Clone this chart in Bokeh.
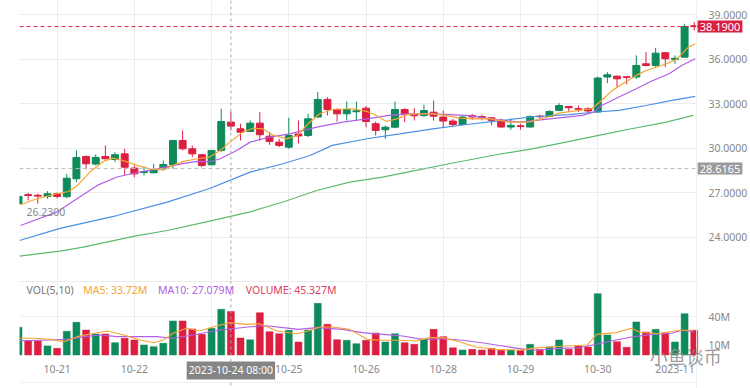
from bokeh.plotting import figure
from bokeh.layouts import column
from bokeh.models import ColumnDataSource, FixedTicker, Span, Label, Range1d, BoxAnnotation
from bokeh.embed import file_html
from bokeh.resources import INLINE

# ---------------- data ----------------
opens = [26.25, 26.86, 26.82, 26.74, 26.92, 26.72, 27.93, 29.43, 28.92, 29.43,
         29.23, 29.61, 28.65, 28.35, 28.33, 28.60, 28.89, 30.51, 29.95, 29.55,
         28.87, 29.84, 31.75, 31.30, 31.12, 31.68, 30.80, 30.40, 30.06, 30.95,
         30.85, 32.09, 33.28, 32.60, 32.31, 32.45, 32.69, 31.64, 31.23, 31.41,
         32.60, 32.25, 32.20, 32.42, 32.09, 31.82, 31.59, 32.18, 32.12, 32.04,
         31.87, 31.42, 31.50, 31.42, 32.15, 32.13, 32.54, 32.80, 32.66, 32.65,
         32.43, 34.79, 34.85, 34.81, 34.79, 35.68, 35.57, 36.43, 35.98, 36.13,
         38.25]
highs = [26.80, 26.98, 26.92, 27.10, 27.00, 28.26, 29.84, 29.50, 29.57, 30.17,
         29.73, 29.95, 28.83, 28.76, 28.94, 29.16, 30.56, 31.19, 30.17, 29.61,
         29.88, 32.65, 32.47, 31.64, 31.86, 32.42, 31.07, 30.62, 32.04, 31.86,
         32.31, 33.77, 33.43, 32.69, 33.14, 33.14, 32.83, 31.79, 31.52, 33.14,
         32.69, 32.69, 32.92, 33.21, 32.53, 31.97, 32.20, 32.31, 32.24, 32.09,
         31.98, 31.98, 31.64, 32.20, 32.25, 32.54, 33.03, 32.83, 32.87, 32.76,
         34.83, 35.12, 34.87, 34.83, 36.25, 36.47, 36.76, 36.47, 36.25, 38.38,
         38.49]
lows = [26.23, 26.47, 26.25, 26.58, 26.60, 26.62, 27.70, 28.56, 28.83, 29.23,
        29.05, 28.15, 28.04, 28.15, 28.31, 28.49, 28.60, 29.84, 29.39, 28.71,
        28.83, 29.73, 31.19, 30.51, 31.07, 30.51, 30.22, 30.06, 29.95, 30.30,
        30.74, 32.04, 32.20, 31.79, 31.86, 31.86, 31.41, 30.85, 30.62, 31.34,
        31.75, 31.86, 32.09, 31.86, 31.41, 31.41, 31.57, 31.90, 31.86, 31.53,
        31.37, 31.24, 31.24, 31.37, 31.98, 32.09, 32.49, 32.43, 32.43, 32.31,
        32.38, 34.38, 34.11, 34.30, 34.67, 35.50, 35.46, 35.46, 35.68, 36.09,
        37.93]
closes = [26.74, 26.80, 26.76, 26.92, 26.74, 27.97, 29.37, 28.94, 29.37, 29.28,
          29.55, 28.71, 28.26, 28.42, 28.53, 28.89, 30.51, 29.95, 29.61, 28.83,
          29.84, 31.79, 31.48, 31.07, 31.68, 30.90, 30.45, 30.18, 30.85, 30.82,
          31.97, 33.28, 32.60, 32.31, 32.60, 32.52, 31.79, 31.19, 31.41, 32.60,
          32.31, 32.18, 32.53, 32.15, 31.82, 31.59, 32.09, 32.10, 32.05, 31.87,
          31.42, 31.53, 31.45, 32.13, 32.11, 32.47, 32.87, 32.72, 32.62, 32.50,
          34.72, 34.94, 34.67, 34.77, 35.57, 35.57, 36.40, 36.02, 36.05, 38.20,
          38.19]
volumes = [28.8, 14.6, 14.6, 9.4, 6.9, 24.7, 34.0, 26.0, 21.9, 21.9,
           12.8, 17.4, 15.6, 10.4, 8.7, 12.2, 35.4, 35.4, 27.1, 21.5,
           27.8, 47.6, 45.327, 17.7, 15.8, 44.0, 24.3, 22.2, 25.7, 13.5,
           26.0, 53.8, 32.0, 16.0, 15.3, 11.8, 15.3, 22.9, 13.5, 22.2,
           12.8, 11.1, 16.7, 26.7, 19.1, 7.6, 5.2, 5.9, 5.2, 6.9,
           4.9, 5.2, 4.9, 11.1, 5.6, 8.3, 15.6, 5.9, 9.4, 8.3,
           63.9, 20.8, 13.9, 8.0, 34.4, 24.0, 26.7, 23.3, 13.5, 43.0,
           25.7]

# price moving averages (candle index, value)
ma5_x = [0.2, 1.9, 4.0, 5.2, 6.1, 7.4, 8.8, 9.8, 11.1, 12.3, 13.6, 15.0, 16.0, 17.1,
         18.5, 19.8, 20.9, 21.9, 23.2, 24.3, 25.3, 26.3, 27.8, 28.9, 30.0, 31.2,
         32.5, 34.6, 36.1, 37.1, 38.1, 39.2, 40.2, 41.2, 42.9, 44.3, 45.7, 47.0,
         48.8, 50.8, 52.9, 55.0, 56.0, 58.1, 59.4, 60.4, 61.5, 62.9, 64.0, 65.0,
         66.6, 68.1, 69.4, 70.1]
ma5_y = [26.18, 26.58, 26.92, 27.07, 27.48, 28.38, 29.10, 29.32, 29.10, 28.83,
         28.60, 28.53, 28.83, 29.10, 29.28, 29.39, 29.84, 30.40, 31.07, 31.34,
         31.30, 30.89, 30.62, 30.85, 31.64, 32.31, 32.60, 32.65, 32.47, 32.20,
         31.79, 31.97, 32.24, 32.31, 32.31, 32.20, 32.02, 31.97, 31.98, 31.75,
         31.75, 32.13, 32.36, 32.54, 32.65, 33.21, 33.89, 34.45, 34.90, 35.23,
         35.57, 35.95, 36.81, 37.03]
ma10_x = [0.2, 4.0, 6.1, 8.2, 10.2, 12.3, 14.4, 17.0, 18.5, 19.8, 20.9, 22.6, 24.0,
          26.0, 28.1, 30.9, 33.6, 36.1, 38.4, 40.5, 42.9, 46.4, 48.8, 51.9, 55.3,
          58.4, 59.6, 60.4, 62.2, 64.0, 65.6, 67.4, 68.7, 70.1]
ma10_y = [24.78, 25.70, 26.60, 27.50, 28.05, 28.35, 28.60, 28.95, 29.10, 29.08,
          29.28, 29.84, 30.40, 30.74, 30.96, 31.41, 31.75, 31.97, 32.20, 32.31,
          32.31, 32.20, 31.98, 31.75, 31.98, 32.20, 32.43, 32.87, 33.44, 34.00,
          34.52, 35.01, 35.57, 36.02]
ma30_x = [0.1, 4.3, 10.2, 15.4, 19.8, 24.0, 27.4, 30.2, 32.5, 36.1, 39.5, 42.9,
          46.4, 49.5, 53.6, 57.0, 59.8, 62.2, 65.0, 67.7, 70.1]
ma30_y = [23.77, 24.58, 25.45, 26.35, 27.27, 28.38, 28.94, 29.50, 30.18, 30.63,
          30.96, 31.30, 31.59, 31.82, 32.13, 32.25, 32.43, 32.54, 32.87, 33.21,
          33.48]
ma60_x = [0.1, 4.3, 6.7, 11.9, 15.4, 19.8, 24.0, 27.4, 30.9, 34.3, 37.7, 41.2,
          44.6, 49.5, 53.2, 56.7, 60.1, 63.5, 67.1, 69.9]
ma60_y = [22.71, 23.05, 23.32, 24.04, 24.44, 25.07, 25.70, 26.36, 27.14, 27.70,
          28.04, 28.49, 28.94, 29.55, 29.95, 30.40, 30.85, 31.30, 31.75, 32.20]

# volume moving averages (candle index, value in M)
vma5_x = [0.1, 1.6, 3.3, 4.7, 6.1, 7.8, 9.2, 10.9, 12.6, 14.0, 15.0, 16.0, 17.4,
          18.8, 20.2, 21.9, 23.6, 25.0, 26.8, 28.8, 30.0, 31.2, 32.5, 34.3, 36.1,
          37.7, 39.5, 41.2, 42.6, 43.9, 45.4, 47.4, 49.5, 51.9, 53.2, 55.0, 56.7,
          58.9, 59.9, 61.9, 63.5, 64.3, 66.3, 68.4, 69.9]
vma5_y = [17.4, 17.4, 16.3, 13.9, 19.1, 22.6, 25.0, 20.8, 15.6, 12.8, 15.6, 22.6,
          27.8, 25.0, 29.5, 33.72, 31.9, 32.6, 25.0, 22.2, 25.0, 29.2, 29.2, 26.7,
          16.3, 15.3, 15.3, 14.6, 18.1, 18.1, 14.6, 8.3, 5.9, 4.9, 6.9, 8.3, 9.4,
          10.4, 21.5, 23.3, 27.8, 24.0, 22.2, 25.7, 25.7]
vma10_x = [0.1, 3.3, 5.0, 6.8, 8.5, 10.2, 11.9, 14.3, 16.0, 18.1, 20.2, 21.9, 24.0,
           25.7, 27.4, 29.0, 30.9, 33.6, 35.6, 37.7, 39.8, 41.8, 43.9, 46.0, 48.0,
           49.8, 51.9, 53.6, 56.0, 58.1, 60.1, 61.9, 63.5, 65.6, 67.7, 68.7, 69.9]
vma10_y = [14.9, 15.6, 16.3, 19.1, 20.8, 19.1, 19.1, 19.1, 17.4, 20.8, 25.0, 27.079,
           29.5, 30.5, 28.5, 26.7, 28.5, 26.7, 23.3, 21.5, 19.8, 16.3, 17.0, 15.3,
           12.8, 9.9, 6.6, 4.9, 6.9, 7.6, 11.8, 15.6, 18.8, 21.5, 22.6, 25.7, 24.3]

price_ticks = [24, 27, 30, 33, 36, 39]
price_tick_labels = ["24.0000", "27.0000", "30.0000", "33.0000", "36.0000", "39.0000"]
vol_ticks = [10, 40]
vol_tick_labels = ["10M", "40M"]
date_ticks = [4, 12, 28, 36, 44, 52, 60, 68]
date_labels = ["10-21", "10-22", "10-25", "10-26", "10-28", "10-29", "10-30", "2023-11"]
grid_ticks = [4, 12, 20, 28, 36, 44, 52, 60]

cursor_index = 22
cursor_time = "2023-10-24 08:00"
cursor_price = 28.6165
cursor_vma5 = 33.72
cursor_vma10 = 27.079

# ---------------- styling / layout ----------------
GREEN = "#0f8a5b"
RED = "#dc1f40"
ORANGE = "#f5a535"
PURPLE = "#b25ee6"
BLUE = "#4b90e6"
LGREEN = "#5cba6c"
GRID = "#ececec"
TXT = "#888888"
FONT = "Noto Sans"
FS = "10.5px"

X0, X1, XEND = 0.103, 70.25, 75.62     # left edge, panel right edge, canvas right edge
PY0, PY1 = 21.07, 39.95                 # price frame range (0..280 px)
VY0, VY1 = -34.9, 77.6                  # volume frame range (280..388 px)
VOL_BASE_EDGE = -2.6                    # bottom of the bar area
VOL_BOTTOM_LINE = -28.6

n = len(opens)
idx = list(range(n))
colors = [GREEN if c >= o else RED for o, c in zip(opens, closes)]
src = ColumnDataSource(dict(
    x=idx, open=opens, close=closes, high=highs, low=lows,
    top=[max(o, c) for o, c in zip(opens, closes)],
    bottom=[min(o, c) for o, c in zip(opens, closes)],
    color=colors, vol=volumes))

xr = Range1d(X0, XEND)


def style_axis(ax, standoff):
    ax.axis_line_color = None
    ax.major_tick_line_color = None
    ax.minor_tick_line_color = None
    ax.major_label_standoff = standoff
    ax.major_label_text_color = TXT
    ax.major_label_text_font = FONT
    ax.major_label_text_font_size = FS


# ---------------- price panel ----------------
p = figure(width=750, height=280, x_range=xr, y_range=Range1d(PY0, PY1),
           output_backend="svg", toolbar_location=None,
           x_axis_location=None, y_axis_location="right",
           min_border_left=19, min_border_right=0, min_border_top=0, min_border_bottom=0)
p.outline_line_color = None
p.yaxis.ticker = FixedTicker(ticks=price_ticks)
p.yaxis.major_label_overrides = {t: l for t, l in zip(price_ticks, price_tick_labels)}
style_axis(p.yaxis[0], -46)
p.ygrid.ticker = FixedTicker(ticks=price_ticks)
p.ygrid.grid_line_color = GRID
p.xgrid.ticker = FixedTicker(ticks=grid_ticks)
p.xgrid.grid_line_color = GRID
p.add_layout(BoxAnnotation(left=X1, fill_color="white", fill_alpha=1.0,
                           line_alpha=0, level="underlay"))

p.segment(x0="x", y0="low", x1="x", y1="high", color="color", line_width=1, source=src)
p.vbar(x="x", width=0.72, top="top", bottom="bottom", fill_color="color",
       line_color="color", line_width=1, source=src)

p.line(ma60_x, ma60_y, line_color=LGREEN, line_width=1.2)
p.line(ma30_x, ma30_y, line_color=BLUE, line_width=1.2)
p.line(ma10_x, ma10_y, line_color=PURPLE, line_width=1.2)
p.line(ma5_x, ma5_y, line_color=ORANGE, line_width=1.2)

last_price = closes[-1]
p.line([X0, X1], [last_price, last_price], line_color=RED, line_dash="4 3", line_width=1)
p.line([X0, X1], [cursor_price, cursor_price], line_color="#bbbbbb", line_dash="4 3",
       line_width=1)
p.add_layout(Span(location=cursor_index, dimension="height", line_color="#aaaaaa",
                  line_dash="3 3", line_width=1))
p.add_layout(Span(location=X1, dimension="height", line_color=GRID, line_width=1))

p.add_layout(Label(x=X1, y=last_price, x_offset=1, text=f"{last_price:.4f}",
                   text_color="white", text_font=FONT, text_font_size="11px",
                   text_align="left", text_baseline="middle",
                   background_fill_color=RED, padding=2))
p.add_layout(Label(x=X1, y=cursor_price, x_offset=1, text=f"{cursor_price:.4f}",
                   text_color="white", text_font=FONT, text_font_size="11px",
                   text_align="left", text_baseline="middle",
                   background_fill_color="#9a9a9a", padding=2))
i_min = lows.index(min(lows))
p.add_layout(Label(x=i_min, y=min(lows), x_offset=8, y_offset=-8,
                   text=f"{min(lows):.4f}", text_color=TXT, text_font=FONT,
                   text_font_size=FS, text_align="left", text_baseline="middle"))

# ---------------- volume panel ----------------
v = figure(width=750, height=108, x_range=xr, y_range=Range1d(VY0, VY1),
           output_backend="svg", toolbar_location=None,
           x_axis_location="below", y_axis_location="right",
           min_border_left=19, min_border_right=0, min_border_top=0, min_border_bottom=0)
v.outline_line_color = None
v.yaxis.ticker = FixedTicker(ticks=vol_ticks)
v.yaxis.major_label_overrides = {t: l for t, l in zip(vol_ticks, vol_tick_labels)}
style_axis(v.yaxis[0], -46)
v.xaxis.ticker = FixedTicker(ticks=date_ticks)
v.xaxis.major_label_overrides = {t: l for t, l in zip(date_ticks, date_labels)}
style_axis(v.xaxis[0], -30)
v.ygrid.ticker = FixedTicker(ticks=vol_ticks)
v.ygrid.grid_line_color = "#f2f2f2"
v.xgrid.ticker = FixedTicker(ticks=grid_ticks)
v.xgrid.grid_line_color = GRID
v.add_layout(BoxAnnotation(left=X1, fill_color="white", fill_alpha=1.0,
                           line_alpha=0, level="underlay"))
v.add_layout(BoxAnnotation(top=VOL_BASE_EDGE, fill_color="white", fill_alpha=1.0,
                           line_alpha=0, level="underlay"))

v.line([X0, X1], [VY1 - 1.0, VY1 - 1.0], line_color=GRID, line_width=1)
v.line([X0, X1], [VOL_BOTTOM_LINE, VOL_BOTTOM_LINE], line_color="#f0f0f0", line_width=1)

v.vbar(x="x", width=0.72, top="vol", bottom=0, fill_color="color",
       line_color="color", line_width=0.5, source=src)
v.line(vma10_x, vma10_y, line_color=PURPLE, line_width=1.1)
v.line(vma5_x, vma5_y, line_color=ORANGE, line_width=1.1)

v.add_layout(Span(location=cursor_index, dimension="height", line_color="#aaaaaa",
                  line_dash="3 3", line_width=1))
v.add_layout(Span(location=X1, dimension="height", line_color=GRID, line_width=1))

legend_items = [
    ("VOL(5,10)", "#777777", 0.83),
    (f"MA5: {cursor_vma5}M", ORANGE, 6.7),
    (f"MA10: {cursor_vma10}M", PURPLE, 14.45),
    (f"VOLUME: {volumes[cursor_index]}M", "#e0405c", 23.55),
]
for txt, col, xx in legend_items:
    v.add_layout(Label(x=xx, y=67.9, text=txt, text_color=col, text_font=FONT,
                       text_font_size=FS, text_align="left", text_baseline="middle"))

v.add_layout(Label(x=cursor_index, y=-16.1, text=cursor_time,
                   text_color="white", text_font=FONT, text_font_size=FS,
                   text_align="center", text_baseline="middle",
                   background_fill_color="#858585", padding=2))

v.add_layout(Label(x=65.4, y=-1.5, text="小鱼谈币", text_color="#8f8f8f",
                   text_alpha=0.9, text_font="Noto Sans CJK SC", text_font_size="18px",
                   text_align="left", text_baseline="middle"))

layout = column(p, v, spacing=0)
open("out.html", "w").write(file_html(layout, INLINE))
